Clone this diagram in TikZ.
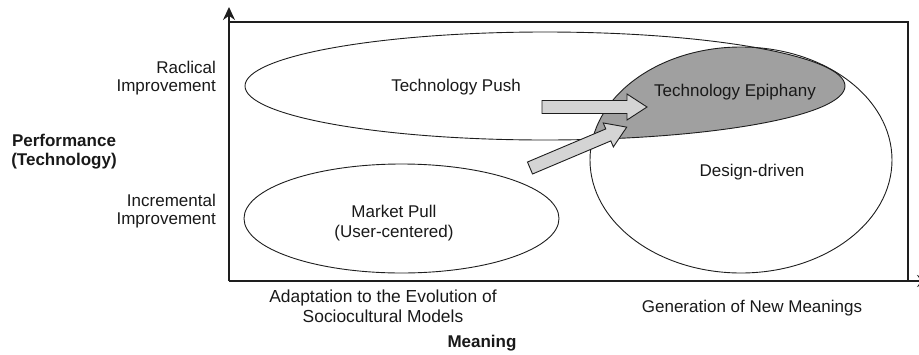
\documentclass[tikz,border=0pt]{standalone}
\usepackage{fontspec}
\setmainfont{Liberation Sans}
\usetikzlibrary{arrows.meta}
\definecolor{inkline}{RGB}{30,30,30}
\definecolor{epifill}{RGB}{160,160,160}
\definecolor{arrowfill}{RGB}{212,212,212}
\definecolor{txt}{RGB}{25,25,25}
\tikzset{
  lbl/.style={inner sep=0pt, text=txt, font=\fontsize{17}{18}\selectfont},
  boldlbl/.style={lbl, font=\fontsize{17}{19}\selectfont\bfseries},
  region/.style={draw=inkline, line width=0.9pt},
  axis/.style={draw=inkline, line width=1.4pt},
  blockarrow/.pic={
    \draw[draw=inkline, fill=arrowfill, line width=0.9pt, line join=miter]
      (0,-6.5) -- (85,-6.5) -- (85,-13) -- (105,0) -- (85,13) -- (85,6.5) -- (0,6.5) -- cycle;
  }
}
\begin{document}
\begin{tikzpicture}[x=1pt, y=-1pt]
\useasboundingbox (0,0) rectangle (919,354);

% overlap of technology push and design-driven regions
\begin{scope}
  \clip (545,86) ellipse [x radius=300, y radius=54];
  \fill[epifill] (741,160) ellipse [x radius=151, y radius=113];
\end{scope}

% the three strategy regions
\draw[region] (545,86) ellipse [x radius=300, y radius=54];
\draw[region] (741,160) ellipse [x radius=151, y radius=113];
\draw[region] (401.5,218.5) ellipse [x radius=157.5, y radius=54.5];

% frame and axes
\coordinate (origin) at (229,281);
\coordinate (ytop) at (229,7);
\coordinate (xend) at (930,281);
\draw[axis] (229,22) -- (908,22) -- (908,281);
\draw[axis, -{Stealth[length=13pt, width=12pt]}] (origin) -- (ytop);
\draw[axis, -{Stealth[length=13pt, width=12pt]}] (origin) -- (xend);

% region labels
\node[lbl] (push) at (456,87) {Technology Push};
\node[lbl] (epiphany) at (735,92) {Technology Epiphany};
\node[lbl] (design) at (752,172) {Design-driven};
\node[lbl, align=center, font=\fontsize{17}{20}\selectfont] (pull) at (394,223) {Market Pull\\(User-centered)};

% moves toward the epiphany region
\pic at (542,107) {blockarrow};
\pic[rotate=22.9] at (530,168) {blockarrow};

% vertical axis labels
\node[lbl, align=right, anchor=east] (radical) at (216,78) {Raclical\\Improvement};
\node[lbl, align=right, anchor=east] (incremental) at (216,211) {Incremental\\Improvement};
\node[boldlbl, align=center] (perf) at (64,152) {Performance\\(Technology)};

% horizontal axis labels
\node[lbl, align=center, font=\fontsize{17.4}{20}\selectfont] (adapt) at (383,306) {Adaptation to the Evolution of\\Sociocultural Models};
\node[lbl] (newmean) at (752,308) {Generation of New Meanings};
\node[boldlbl] (meaning) at (482,343) {Meaning};
\end{tikzpicture}
\end{document}
